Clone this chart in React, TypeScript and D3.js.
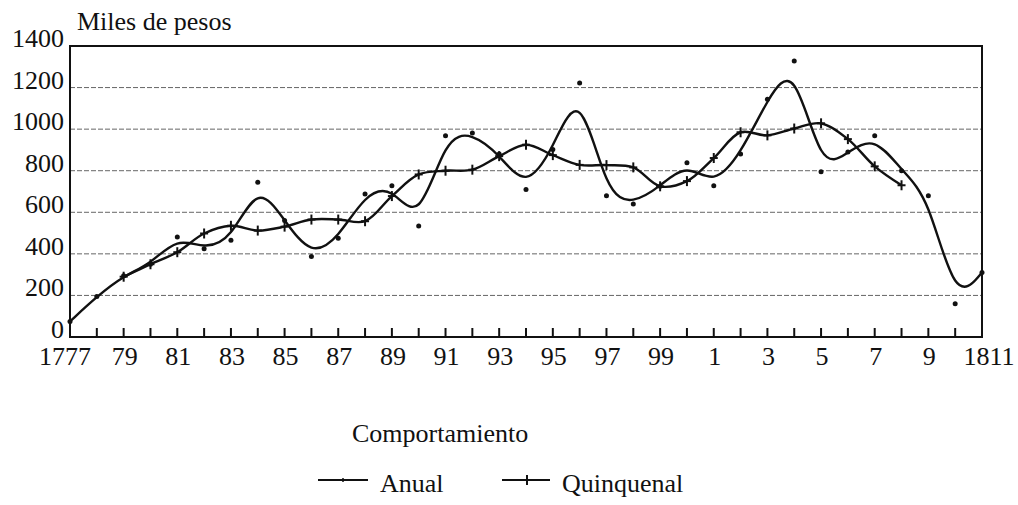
/** Ingresos anuales y quinquenales, 1777-1811 (miles de pesos). */

import { scaleLinear, line, curveBasis, curveCatmullRom } from 'd3'

const annualYears = [
  1777, 1778, 1779, 1780, 1781, 1782, 1783, 1784, 1785, 1786, 1787, 1788,
  1789, 1790, 1791, 1792, 1793, 1794, 1795, 1796, 1797, 1798, 1799, 1800,
  1801, 1802, 1803, 1804, 1805, 1806, 1807, 1808, 1809, 1810, 1811,
]
const annualValues = [
  75, 195, 295, 350, 481, 424, 465, 745, 560, 387, 475, 688,
  728, 534, 968, 981, 880, 710, 902, 1222, 680, 640, 725, 838,
  728, 880, 1144, 1328, 795, 890, 968, 800, 680, 160, 310,
]

const quinqYears = [
  1779, 1780, 1781, 1782, 1783, 1784, 1785, 1786, 1787, 1788, 1789, 1790,
  1791, 1792, 1793, 1794, 1795, 1796, 1797, 1798, 1799, 1800, 1801, 1802,
  1803, 1804, 1805, 1806, 1807, 1808,
]
const quinqValues = [
  290, 350, 408, 498, 535, 512, 531, 565, 565, 557, 678, 782,
  800, 805, 870, 925, 875, 828, 827, 816, 725, 750, 861, 985,
  970, 1003, 1028, 952, 821, 730,
]

const yTicks = [0, 200, 400, 600, 800, 1000, 1200, 1400]
const labelYears = [
  1777, 1779, 1781, 1783, 1785, 1787, 1789, 1791, 1793, 1795, 1797, 1799,
  1801, 1803, 1805, 1807, 1809, 1811,
]
const labelTexts = [
  '1777', '79', '81', '83', '85', '87', '89', '91', '93', '95', '97', '99',
  '1', '3', '5', '7', '9', '1811',
]

const W = 1018
const H = 505
const FONT = "'Liberation Serif', 'Times New Roman', serif"

export default function App() {
  const x = scaleLinear().domain([1777, 1811]).range([70, 982])
  const y = scaleLinear().domain([0, 1400]).range([337, 46])

  const annualPts = annualYears.map((yr, i) => [yr, annualValues[i]] as [number, number])
  const quinqPts = quinqYears.map((yr, i) => [yr, quinqValues[i]] as [number, number])

  // annual curve is a smoothed spline that does not pass through the dots
  const annualLine = line<[number, number]>()
    .x((d) => x(d[0]))
    .y((d) => y(d[1]))
    .curve(curveBasis)
  const quinqLine = line<[number, number]>()
    .x((d) => x(d[0]))
    .y((d) => y(d[1]))
    .curve(curveCatmullRom.alpha(0.5))

  const [x0, x1] = x.range()
  const tickYears = annualYears.slice(1, -1)
  const last = labelYears.length - 1

  return (
    <svg
      width={W}
      height={H}
      style={{ position: 'absolute', left: 0, top: 0, background: '#fff' }}
      fontFamily={FONT}
      fontSize={26}
      fill="#111"
    >
      {/* Gridlines */}
      {yTicks.slice(1, -1).map((v) => (
        <line
          key={v}
          x1={x0}
          x2={x1}
          y1={y(v)}
          y2={y(v)}
          stroke="#666"
          strokeWidth={1}
          strokeDasharray="5 2"
        />
      ))}

      {/* Frame */}
      <rect
        x={x0}
        y={y(1400)}
        width={x1 - x0}
        height={y(0) - y(1400)}
        fill="none"
        stroke="#111"
        strokeWidth={2}
      />

      {/* X ticks */}
      {tickYears.map((yr) => (
        <line key={yr} x1={x(yr)} x2={x(yr)} y1={y(0)} y2={y(0) - 9} stroke="#111" strokeWidth={2} />
      ))}

      {/* Y labels */}
      {yTicks.map((v) => (
        <text key={v} x={64} y={y(v) + 1} textAnchor="end">
          {v}
        </text>
      ))}

      {/* X labels */}
      {labelYears.map((yr, i) => (
        <text
          key={yr}
          x={x(yr) + (i === 0 ? -5 : i === last ? 7 : 1)}
          y={365}
          textAnchor="middle"
        >
          {labelTexts[i]}
        </text>
      ))}

      <text x={77} y={30}>Miles de pesos</text>

      {/* Series */}
      <path d={annualLine(annualPts) ?? ''} fill="none" stroke="#111" strokeWidth={2.4} />
      <path d={quinqLine(quinqPts) ?? ''} fill="none" stroke="#111" strokeWidth={2.4} />

      {annualPts.map((d) => (
        <circle key={'a' + d[0]} cx={x(d[0])} cy={y(d[1])} r={2.5} fill="#111" />
      ))}
      {quinqPts.map((d) => (
        <g key={'q' + d[0]} stroke="#111" strokeWidth={2}>
          <line x1={x(d[0])} x2={x(d[0])} y1={y(d[1]) - 5} y2={y(d[1]) + 5} />
          <line x1={x(d[0]) - 4} x2={x(d[0]) + 4} y1={y(d[1])} y2={y(d[1])} />
        </g>
      ))}

      {/* Legend */}
      <text x={352} y={442}>Comportamiento</text>
      <line x1={318} x2={368} y1={480} y2={480} stroke="#111" strokeWidth={2} />
      <line x1={343} x2={343} y1={478} y2={482} stroke="#111" strokeWidth={1.5} />
      <text x={380} y={492}>Anual</text>
      <line x1={502} x2={550} y1={480} y2={480} stroke="#111" strokeWidth={2} />
      <line x1={527} x2={527} y1={475} y2={485} stroke="#111" strokeWidth={2} />
      <text x={562} y={492}>Quinquenal</text>
    </svg>
  )
}
